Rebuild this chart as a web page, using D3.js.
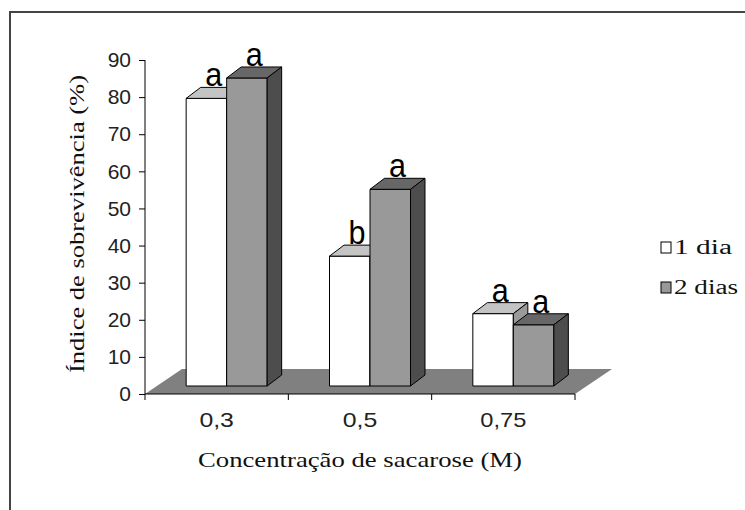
<!DOCTYPE html>
<html>
<head>
<meta charset="utf-8">
<script src="https://cdn.jsdelivr.net/npm/d3@7"></script>
<style>
  html, body { margin: 0; padding: 0; background: #fff; }
  svg { display: block; }
</style>
</head>
<body>
<svg id="chart" width="745" height="510"></svg>
<script>
// Survival index by sucrose concentration, 1 and 2 days of treatment
const categories = ["0,3", "0,5", "0,75"];
const seriesNames = ["1 dia", "2 dias"];
const dia1 = [77.5, 35, 19.5];
const dia2 = [83, 53, 16.5];
const letters1 = ["a", "b", "a"];
const letters2 = ["a", "a", "a"];
const yTickValues = [0, 10, 20, 30, 40, 50, 60, 70, 80, 90];

const svg = d3.select("#chart");
const sans = "Liberation Sans, Arial, sans-serif";
const serif = "Liberation Serif, Times New Roman, serif";

// frame (only top and left edges fall inside the canvas)
svg.append("path")
  .attr("d", "M10,510 L10,12 L745,12")
  .attr("fill", "none").attr("stroke", "#444").attr("stroke-width", 2);

const x0 = 145, x1 = 575, yBase = 394, yTop = 60;
const y = d3.scaleLinear().domain([0, 90]).range([yBase, yTop]);
const x = d3.scaleBand().domain(categories).range([x0, x1]);
const sub = d3.scaleBand().domain(seriesNames).range([0, 81]);

// depth offsets
const floorDx = 37, floorDy = 25;   // floor depth
const shiftDx = 10, shiftDy = 8;    // bars placed into the floor
const barDx = 14.5, barDy = 11;     // bar depth

// floor
svg.append("path")
  .attr("d", `M${x0},${yBase} L${x1},${yBase} L${x1 + floorDx},${yBase - floorDy} L${x0 + floorDx},${yBase - floorDy} Z`)
  .attr("fill", "#808080");

const palette = {
  "1 dia":  { front: "#ffffff", top: "#c4c4c4", side: "#9a9a9a" },
  "2 dias": { front: "#999999", top: "#676767", side: "#4d4d4d" }
};

const bars = [];
categories.forEach((c, i) => {
  [[seriesNames[0], dia1[i], letters1[i]], [seriesNames[1], dia2[i], letters2[i]]].forEach(([s, v, l]) => {
    bars.push({ c, s, v, l });
  });
});

const gBars = svg.append("g");
bars.forEach(d => {
  const left = x(d.c) + (x.bandwidth() - 81) / 2 + sub(d.s) + shiftDx;
  const w = sub.bandwidth();
  const bottom = y(0) - shiftDy;
  const top = y(d.v) - shiftDy;
  const col = palette[d.s];
  const g = gBars.append("g").attr("stroke", "#000").attr("stroke-width", 1).attr("stroke-linejoin", "round");
  g.append("rect").attr("x", left).attr("y", top).attr("width", w).attr("height", bottom - top).attr("fill", col.front);
  g.append("path")
    .attr("d", `M${left},${top} L${left + barDx},${top - barDy} L${left + w + barDx},${top - barDy} L${left + w},${top} Z`)
    .attr("fill", col.top);
  g.append("path")
    .attr("d", `M${left + w},${top} L${left + w + barDx},${top - barDy} L${left + w + barDx},${bottom - barDy} L${left + w},${bottom} Z`)
    .attr("fill", col.side);
  d.labelX = left + w / 2 + barDx / 2;
  d.labelY = top - barDy - 1;
});

// significance letters
svg.append("g").selectAll("text").data(bars).join("text")
  .attr("x", d => d.labelX - 8.5).attr("y", d => d.labelY)
  .attr("font-family", sans)
  .attr("font-size", 34)
  .attr("textLength", 17).attr("lengthAdjust", "spacingAndGlyphs")
  .attr("fill", "#000")
  .text(d => d.l);

// y axis
const yAxis = d3.axisLeft(y).tickValues(yTickValues).tickSize(6).tickPadding(8).tickFormat(d3.format("d"));
const gy = svg.append("g").attr("transform", `translate(${x0},0)`).call(yAxis);
gy.select(".domain").attr("d", `M0,${yBase}V${yTop}`).attr("stroke", "#000");
gy.selectAll(".tick line").attr("stroke", "#000");
gy.selectAll(".tick text")
  .attr("font-family", sans)
  .attr("font-size", 21).attr("fill", "#222");

// x axis
const gx = svg.append("g").attr("transform", `translate(0,${yBase})`);
gx.append("line").attr("x1", x0).attr("x2", x1).attr("stroke", "#000");
gx.selectAll("line.tk").data([...categories.map(c => x(c)), x1]).join("line")
  .attr("class", "tk").attr("x1", d => d).attr("x2", d => d).attr("y1", 0).attr("y2", 6).attr("stroke", "#000");
gx.selectAll("text").data(categories).join("text")
  .attr("x", d => x(d) + x.bandwidth() / 2).attr("y", 33)
  .attr("text-anchor", "middle")
  .attr("font-family", sans)
  .attr("font-size", 21).attr("fill", "#222")
  .attr("textLength", d => d.length * 11.5).attr("lengthAdjust", "spacingAndGlyphs")
  .text(d => d);

// axis titles
svg.append("text")
  .attr("x", 360).attr("y", 467).attr("text-anchor", "middle")
  .attr("font-family", serif).attr("font-size", 21).attr("fill", "#111")
  .attr("textLength", 324).attr("lengthAdjust", "spacingAndGlyphs")
  .text("Concentração de sacarose (M)");

svg.append("text")
  .attr("transform", "translate(84,224) rotate(-90)").attr("text-anchor", "middle")
  .attr("font-family", serif).attr("font-size", 21).attr("fill", "#111")
  .attr("textLength", 298).attr("lengthAdjust", "spacingAndGlyphs")
  .text("Índice de sobrevivência (%)");

// legend
const legend = svg.append("g");
seriesNames.forEach((s, i) => {
  const ly = 242 + i * 40;
  legend.append("rect").attr("x", 661).attr("y", ly).attr("width", 10).attr("height", 11)
    .attr("fill", palette[s].front).attr("stroke", "#000");
  legend.append("text").attr("x", 674).attr("y", ly + 12)
    .attr("font-family", serif).attr("font-size", 20).attr("fill", "#111")
    .attr("textLength", i === 0 ? 58 : 64).attr("lengthAdjust", "spacingAndGlyphs")
    .text(s);
});
</script>
</body>
</html>
